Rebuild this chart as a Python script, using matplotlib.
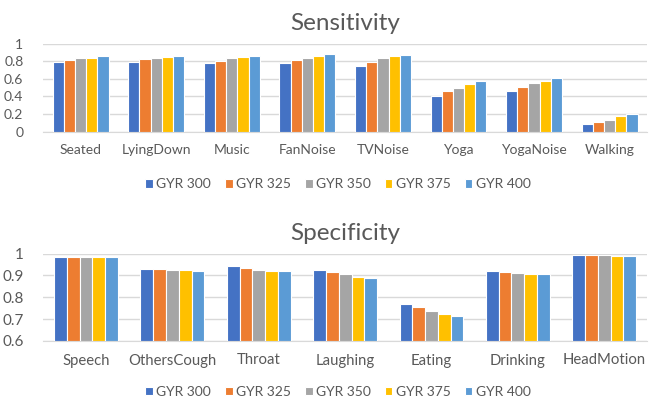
import matplotlib
matplotlib.use("Agg")
import matplotlib.pyplot as plt
import numpy as np

plt.rcParams['font.family'] = ['Lato', 'DejaVu Sans']

series = ["GYR 300", "GYR 325", "GYR 350", "GYR 375", "GYR 400"]
colors = ["#4472C4", "#ED7D31", "#A5A5A5", "#FFC000", "#5B9BD5"]

sens_cats = ["Seated", "LyingDown", "Music", "FanNoise", "TVNoise", "Yoga", "YogaNoise", "Walking"]
sens_300 = [0.79, 0.79, 0.775, 0.775, 0.74, 0.40, 0.46, 0.09]
sens_325 = [0.815, 0.82, 0.805, 0.81, 0.79, 0.46, 0.505, 0.11]
sens_350 = [0.835, 0.835, 0.835, 0.835, 0.835, 0.49, 0.555, 0.135]
sens_375 = [0.84, 0.845, 0.85, 0.86, 0.857, 0.54, 0.575, 0.175]
sens_400 = [0.857, 0.86, 0.855, 0.88, 0.875, 0.572, 0.605, 0.205]

spec_cats = ["Speech", "OthersCough", "Throat", "Laughing", "Eating", "Drinking", "HeadMotion"]
spec_300 = [0.986, 0.930, 0.942, 0.927, 0.769, 0.921, 0.994]
spec_325 = [0.986, 0.928, 0.936, 0.915, 0.755, 0.916, 0.994]
spec_350 = [0.986, 0.925, 0.927, 0.907, 0.737, 0.910, 0.994]
spec_375 = [0.986, 0.924, 0.922, 0.895, 0.723, 0.908, 0.991]
spec_400 = [0.986, 0.922, 0.919, 0.887, 0.713, 0.906, 0.991]

text_col = "#595959"
grid_col = "#D9D9D9"


def draw(ax, title, cats, data, ylim, yticks, ylabels, tick_fs, cat_fs, legend_y):
    x = np.arange(len(cats))
    w = 0.148
    for i, vals in enumerate(data):
        ax.bar(x + (i - 2) * w, np.array(vals) - ylim[0], bottom=ylim[0], width=w,
               color=colors[i], edgecolor="white", linewidth=0.8, label=series[i], zorder=3)
    ax.set_xlim(-0.5, len(cats) - 0.5)
    ax.set_ylim(*ylim)
    ax.set_yticks(yticks)
    ax.set_yticklabels(ylabels)
    ax.set_xticks(x)
    ax.set_xticklabels(cats)
    ax.tick_params(axis="y", length=0, labelsize=tick_fs, labelcolor=text_col, pad=14)
    ax.tick_params(axis="x", length=0, labelsize=cat_fs, labelcolor=text_col, pad=9)
    ax.grid(axis="y", color=grid_col, linewidth=1, zorder=0)
    for s in ["top", "right", "left"]:
        ax.spines[s].set_visible(False)
    ax.spines["bottom"].set_color(grid_col)
    ax.set_title(title, fontsize=17.5, color=text_col, pad=10)
    ax.legend(loc="center", bbox_to_anchor=(0.488, legend_y), ncol=5, frameon=False,
              fontsize=10, labelcolor=text_col, handlelength=0.55, handleheight=0.55,
              handletextpad=0.25, columnspacing=1.0)


fig = plt.figure(figsize=(6.5, 4), dpi=100)
ax1 = fig.add_axes([0.066, 0.671, 0.93, 0.22])
ax2 = fig.add_axes([0.066, 0.1475, 0.93, 0.2185])

draw(ax1, "Sensitivity", sens_cats, [sens_300, sens_325, sens_350, sens_375, sens_400],
     (0, 1), np.arange(0, 1.01, 0.2), ["0", "0.2", "0.4", "0.6", "0.8", "1"], 10, 10, -0.6)
draw(ax2, "Specificity", spec_cats, [spec_300, spec_325, spec_350, spec_375, spec_400],
     (0.6, 1), np.arange(0.6, 1.01, 0.1), ["0.6", "0.7", "0.8", "0.9", "1"], 11, 10.7, -0.58)

fig.savefig("out.png", dpi=100)
